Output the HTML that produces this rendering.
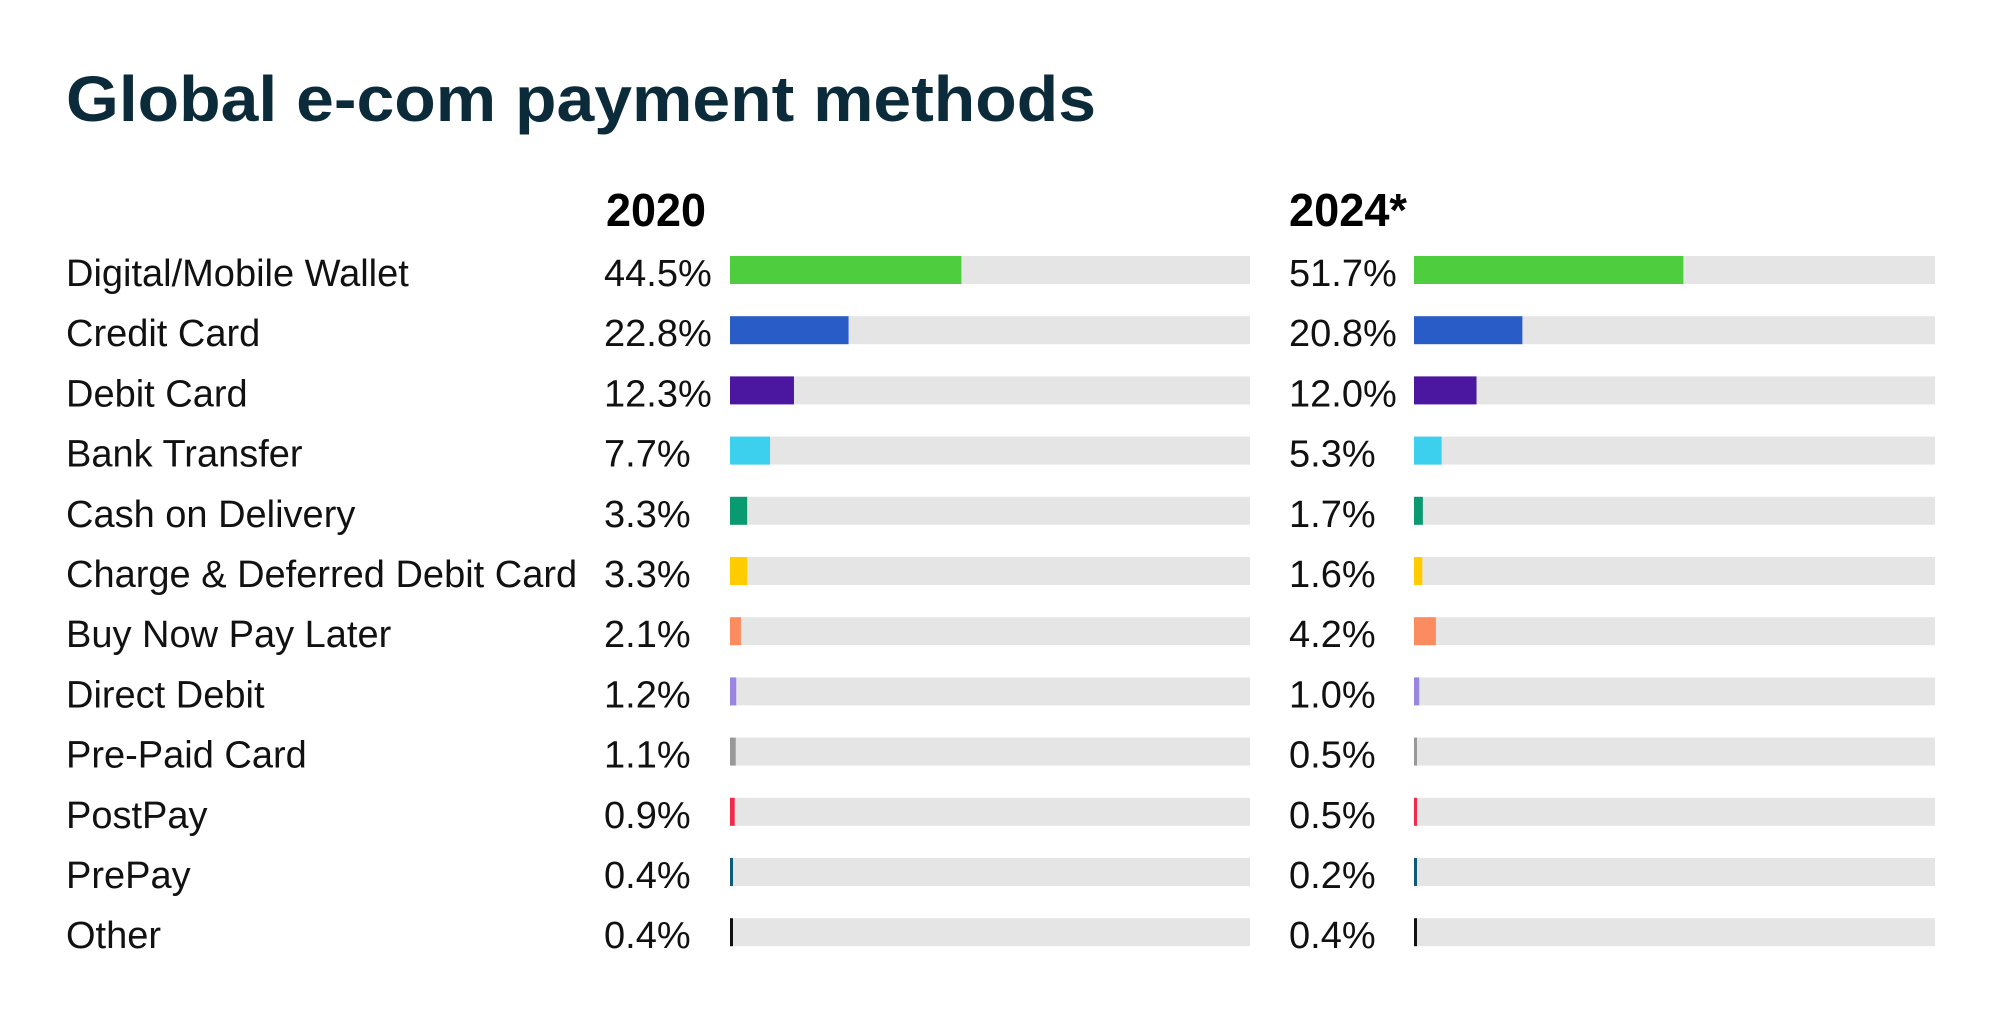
<!DOCTYPE html>
<html><head><meta charset="utf-8"><style>
html,body{margin:0;padding:0;background:#fff;}
svg{display:block;}
</style></head><body>
<svg id="chart" width="2006" height="1029" xmlns="http://www.w3.org/2000/svg" font-family="'Liberation Sans', sans-serif">
<text x="66" y="121" font-size="64" font-weight="bold" fill="#0b2a3a" textLength="1030" lengthAdjust="spacingAndGlyphs">Global e-com payment methods</text>
<text x="606" y="226" font-size="46" font-weight="bold" fill="#000" textLength="100" lengthAdjust="spacingAndGlyphs">2020</text>
<text x="1289" y="226" font-size="46" font-weight="bold" fill="#000" textLength="118" lengthAdjust="spacingAndGlyphs">2024*</text>
<g id="rows"></g>
</svg>
<script>
const categories = ["Digital/Mobile Wallet","Credit Card","Debit Card","Bank Transfer","Cash on Delivery","Charge & Deferred Debit Card","Buy Now Pay Later","Direct Debit","Pre-Paid Card","PostPay","PrePay","Other"];
const values2020 = [44.5,22.8,12.3,7.7,3.3,3.3,2.1,1.2,1.1,0.9,0.4,0.4];
const values2024 = [51.7,20.8,12.0,5.3,1.7,1.6,4.2,1.0,0.5,0.5,0.2,0.4];
const colors = ["#4ecd3f","#2a5cc8","#4b16a0","#3ccfee","#0a9a72","#ffcc00","#fb8c60","#9a86e0","#999999","#ef2a4a","#0e5a7a","#111111"];
const axisMax = 100;

const NS = "http://www.w3.org/2000/svg";
const g = document.getElementById("rows");
const rowY = i => 270 + i * 60.2;
const panels = [
  {vals: values2020, valX: 604, barX: 730, barW: 520, year: "2020"},
  {vals: values2024, valX: 1289, barX: 1414, barW: 521, year: "2024"}
];
const xScale = (p, v) => p.barW * v / axisMax;
function mk(tag, attrs) { const e = document.createElementNS(NS, tag); for (const k in attrs) e.setAttribute(k, attrs[k]); return e; }

categories.forEach((c, i) => {
  const cy = rowY(i);
  const lbl = mk("text", {x: 66, y: cy + 16, "font-size": 38, fill: "#111"});
  
  
  lbl.textContent = c;
  g.appendChild(lbl);
  panels.forEach(p => {
    const v = p.vals[i];
    const t = mk("text", {x: p.valX, y: cy + 16, "font-size": 38, fill: "#111"});
    
    
    t.textContent = v.toFixed(1) + "%";
    g.appendChild(t);
    const track = mk("rect", {x: p.barX, y: cy - 14, width: p.barW, height: 28, fill: "#e5e5e5"});
    
    
    g.appendChild(track);
    const bar = mk("rect", {x: p.barX, y: cy - 14, width: Math.max(xScale(p, v), 3), height: 28, fill: colors[i]});
    
    
    g.appendChild(bar);
  });
});
</script>
</body></html>
